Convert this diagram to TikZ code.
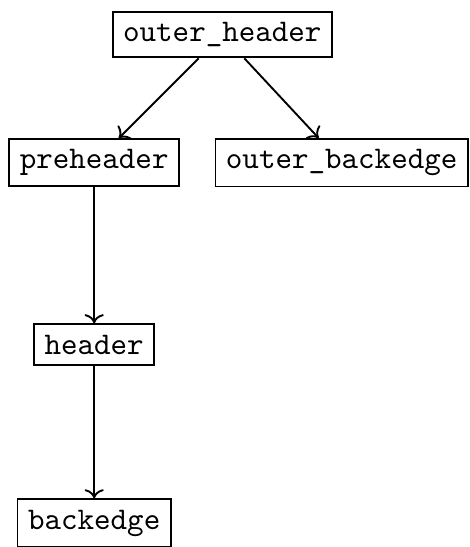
\documentclass[tikz,border=0pt]{standalone}
\usepackage{tikz}
\usetikzlibrary{arrows.meta,positioning}

\begin{document}
\begin{tikzpicture}[x=1pt,y=1pt,
  blk/.style={draw,font=\ttfamily,line width=0.6pt},
  edge/.style={->,line width=0.6pt}]
  \useasboundingbox (0,0) rectangle (149.2,-173.7);
  % loop nest
  \node[blk] (outerhdr) at (70.6,-11) {outer\_header};
  \node[blk] (pre) at (29.9,-51.7) {preheader};
  \node[blk] (outerback) at (108.5,-51.7) {outer\_backedge};
  \node[blk] (hdr) at (29.9,-109.4) {header};
  \node[blk] (back) at (29.9,-166.1) {backedge};
  \draw[edge] (outerhdr) -- (pre);
  \draw[edge] (outerhdr) -- (outerback);
  \draw[edge] (pre) -- (hdr);
  \draw[edge] (hdr) -- (back);
\end{tikzpicture}
\end{document}
